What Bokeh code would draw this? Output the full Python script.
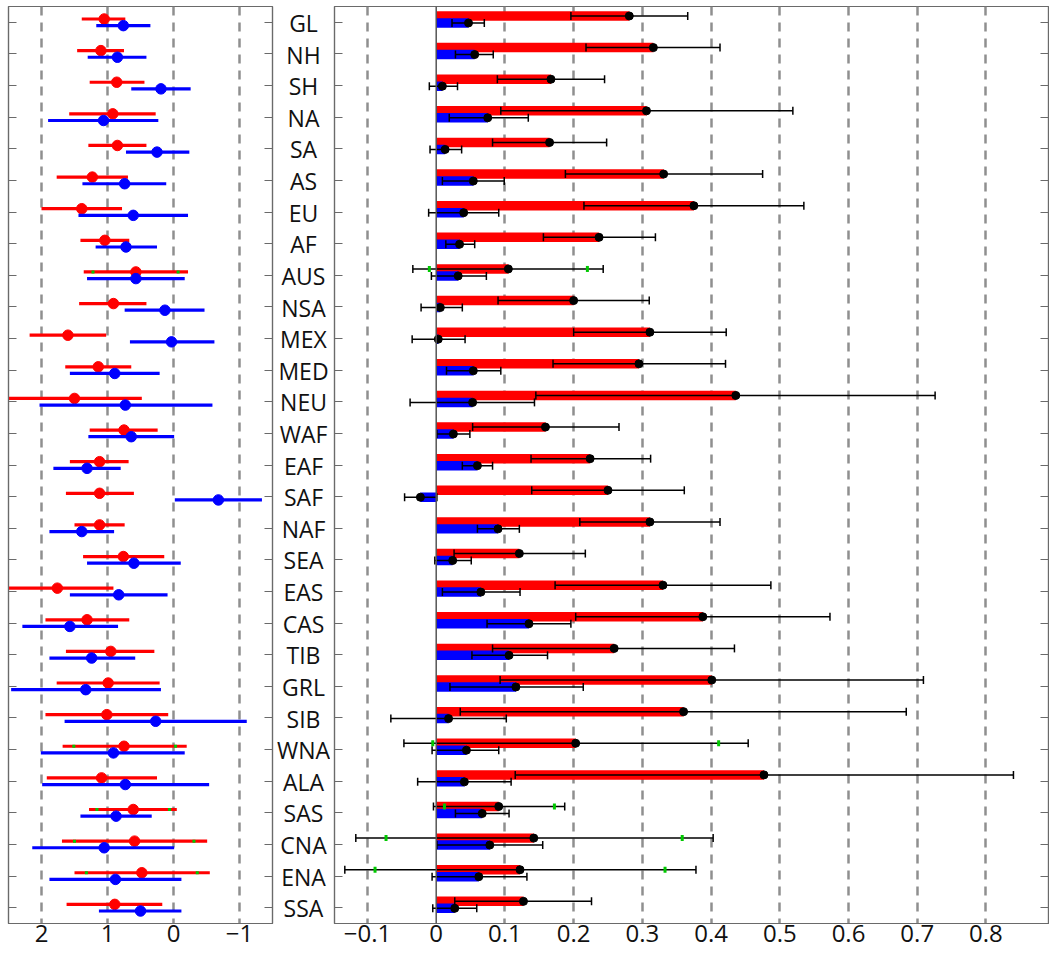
import numpy as np
from bokeh.plotting import figure
from bokeh.models import Range1d, FixedTicker, LinearAxis, Span, ColumnDataSource, CustomLabelingPolicy
from bokeh.layouts import row
from bokeh.embed import file_html
from bokeh.resources import INLINE
from bokeh.core.properties import value

# ---------------- data ----------------
regions = ["GL", "NH", "SH", "NA", "SA", "AS", "EU", "AF", "AUS", "NSA", "MEX", "MED",
           "NEU", "WAF", "EAF", "SAF", "NAF", "SEA", "EAS", "CAS", "TIB", "GRL", "SIB",
           "WNA", "ALA", "SAS", "CNA", "ENA", "SSA"]

# left panel (reversed axis): centre, upper-value end, lower-value end
left_red_mid = [1.05, 1.10, 0.86, 0.92, 0.85, 1.23, 1.39, 1.04, 0.57, 0.91, 1.60, 1.14,
                1.50, 0.75, 1.12, 1.12, 1.12, 0.76, 1.76, 1.31, 0.95, 0.99, 1.01,
                0.75, 1.09, 0.61, 0.59, 0.48, 0.89]
left_red_hi = [1.39, 1.46, 1.27, 1.58, 1.29, 1.77, 2.00, 1.41, 1.36, 1.43, 2.18, 1.64,
               2.55, 1.27, 1.57, 1.63, 1.50, 1.37, 2.55, 1.94, 1.63, 1.77, 1.94,
               1.68, 1.92, 1.28, 1.69, 1.50, 1.62]
left_red_lo = [0.73, 0.75, 0.44, 0.27, 0.41, 0.69, 0.78, 0.67, -0.22, 0.41, 1.02, 0.64,
               0.48, 0.24, 0.68, 0.60, 0.74, 0.14, 0.91, 0.67, 0.29, 0.21, 0.08,
               -0.20, 0.25, -0.05, -0.51, -0.55, 0.17]
left_blue_mid = [0.76, 0.85, 0.19, 1.06, 0.25, 0.74, 0.61, 0.72, 0.57, 0.13, 0.03, 0.89,
                 0.73, 0.64, 1.31, -0.68, 1.39, 0.60, 0.83, 1.57, 1.24, 1.33, 0.27,
                 0.91, 0.73, 0.87, 1.05, 0.88, 0.50]
left_blue_hi = [1.17, 1.30, 0.64, 1.90, 0.72, 1.38, 1.44, 1.18, 1.31, 0.74, 0.66, 1.57,
                2.03, 1.29, 1.82, -0.02, 1.88, 1.31, 1.57, 2.29, 1.88, 2.46, 1.65,
                2.01, 1.99, 1.41, 2.14, 1.88, 1.13]
left_blue_lo = [0.35, 0.41, -0.26, 0.23, -0.24, 0.11, -0.22, 0.25, -0.17, -0.47, -0.62, 0.21,
                -0.59, -0.01, 0.80, -1.34, 0.90, -0.11, 0.09, 0.84, 0.58, 0.19, -1.11,
                -0.17, -0.54, 0.33, -0.01, -0.12, -0.12]
left_green_regions = ["AUS", "AUS", "WNA", "WNA", "SAS", "SAS", "CNA", "CNA", "ENA", "ENA"]
left_green_vals = [1.22, -0.07, 1.51, -0.03, 1.16, 0.06, 1.50, -0.31, 1.32, -0.36]

# right panel: value, lower, upper
right_red_val = [0.281, 0.316, 0.167, 0.306, 0.165, 0.331, 0.375, 0.237, 0.105, 0.200, 0.311, 0.295,
                 0.436, 0.159, 0.224, 0.250, 0.311, 0.121, 0.330, 0.388, 0.259, 0.401, 0.360,
                 0.203, 0.477, 0.091, 0.142, 0.122, 0.127]
right_red_lo = [0.196, 0.218, 0.089, 0.094, 0.082, 0.188, 0.215, 0.156, -0.034, 0.090, 0.200, 0.170,
                0.145, 0.053, 0.138, 0.139, 0.209, 0.026, 0.173, 0.203, 0.082, 0.093, 0.035,
                -0.047, 0.115, -0.004, -0.117, -0.133, 0.027]
right_red_hi = [0.366, 0.413, 0.245, 0.519, 0.248, 0.475, 0.535, 0.319, 0.243, 0.310, 0.422, 0.421,
                0.726, 0.266, 0.312, 0.361, 0.413, 0.217, 0.487, 0.573, 0.434, 0.709, 0.684,
                0.454, 0.840, 0.187, 0.403, 0.378, 0.226]
right_blue_val = [0.047, 0.056, 0.009, 0.075, 0.013, 0.054, 0.040, 0.034, 0.032, 0.006, 0.003, 0.054,
                  0.053, 0.025, 0.060, -0.023, 0.090, 0.024, 0.065, 0.135, 0.106, 0.116, 0.018,
                  0.044, 0.041, 0.067, 0.078, 0.062, 0.027]
right_blue_lo = [0.023, 0.028, -0.010, 0.019, -0.009, 0.009, -0.011, 0.014, -0.007, -0.022, -0.035, 0.015,
                 -0.038, 0.001, 0.038, -0.046, 0.060, -0.002, 0.009, 0.074, 0.052, 0.020, -0.066,
                 -0.006, -0.027, 0.028, 0.001, -0.006, -0.005]
right_blue_hi = [0.070, 0.083, 0.031, 0.134, 0.037, 0.099, 0.091, 0.056, 0.073, 0.038, 0.042, 0.094,
                 0.143, 0.049, 0.082, 0.001, 0.121, 0.051, 0.122, 0.196, 0.162, 0.214, 0.102,
                 0.091, 0.109, 0.106, 0.155, 0.132, 0.059]
right_green_regions = ["AUS", "AUS", "WNA", "WNA", "SAS", "SAS", "CNA", "CNA", "ENA", "ENA"]
right_green_vals = [-0.010, 0.220, -0.005, 0.411, 0.012, 0.172, -0.073, 0.358, -0.089, 0.333]

left_ticks = [2, 1, 0, -1]
left_tick_labels = ["2", "1", "0", "\u22121"]
right_ticks = [-0.1, 0, 0.1, 0.2, 0.3, 0.4, 0.5, 0.6, 0.7, 0.8]
right_tick_labels = ["\u22120.1", "0", "0.1", "0.2", "0.3", "0.4", "0.5", "0.6", "0.7", "0.8"]

# ---------------- styling ----------------
RED = "#ff0000"
BLUE = "#0000ff"
GREEN = "#00c800"
FRAME = "#6a6a6a"
GRID = "#8f8f8f"
FONT = "Open Sans"
H = 957
TOP, BOTTOM = 6, 34

n = len(regions)
ypos = np.arange(1, n + 1, dtype=float)
idx = {r: i for i, r in enumerate(regions)}
y_range = Range1d(n + 0.5, 0.5)

NO_LABELS = CustomLabelingPolicy(code="""
for (let i = 0; i < indices.size; i++) { indices.unset(i) }
return indices
""")


def style_frame(p, grid_ticks, ticks, labels):
    p.outline_line_color = FRAME
    p.outline_line_width = 1.2
    p.ygrid.visible = False
    p.xgrid.ticker = FixedTicker(ticks=grid_ticks)
    p.xgrid.grid_line_color = GRID
    p.xgrid.grid_line_width = 2.5
    p.xgrid.grid_line_dash = "9 7"
    ax = p.xaxis[0]
    ax.ticker = FixedTicker(ticks=ticks)
    ax.major_label_overrides = {t: l for t, l in zip(ticks, labels)}
    ax.major_label_text_font = FONT
    ax.major_label_text_font_size = "24px"
    ax.major_label_text_color = "#111111"
    ax.major_label_standoff = 1
    ax.major_tick_out = 0
    ax.major_tick_in = 0
    ax.minor_tick_out = 0
    ax.minor_tick_in = 0
    ax.axis_line_color = FRAME
    ax.axis_line_width = 1.2
    for side in ("left", "right"):
        ya = LinearAxis(ticker=FixedTicker(ticks=list(ypos)))
        ya.major_label_policy = NO_LABELS
        ya.major_label_text_font_size = "0px"
        ya.major_label_standoff = 0
        ya.major_tick_out = 0
        ya.major_tick_in = 8
        ya.major_tick_line_color = FRAME
        ya.major_tick_line_width = 1.2
        ya.minor_tick_out = 0
        ya.minor_tick_in = 0
        ya.axis_line_color = FRAME
        ya.axis_line_width = 1.2
        p.add_layout(ya, side)


# ---------------- left panel ----------------
pl = figure(width=276, height=H, x_range=Range1d(2.5, -1.5), y_range=y_range,
            output_backend="svg", toolbar_location=None, y_axis_type=None,
            min_border_left=8, min_border_right=4, min_border_top=TOP, min_border_bottom=BOTTOM)
style_frame(pl, left_ticks, left_ticks, left_tick_labels)

src_l = ColumnDataSource(dict(
    yr=ypos - 0.105, yb=ypos + 0.105,
    rm=left_red_mid, rh=left_red_hi, rl=left_red_lo,
    bm=left_blue_mid, bh=left_blue_hi, bl=left_blue_lo))
pl.segment(x0="rh", x1="rl", y0="yr", y1="yr", source=src_l, line_color=RED, line_width=3.2)
pl.scatter(x="rm", y="yr", source=src_l, size=10.5, fill_color=RED, line_color=RED)
pl.rect(x=left_green_vals, y=[idx[r] + 1 - 0.105 for r in left_green_regions],
        width=3, height=3, width_units="screen", height_units="screen",
        fill_color=GREEN, line_color=None)
pl.segment(x0="bh", x1="bl", y0="yb", y1="yb", source=src_l, line_color=BLUE, line_width=3.2)
pl.scatter(x="bm", y="yb", source=src_l, size=10.5, fill_color=BLUE, line_color=BLUE)

# ---------------- middle labels ----------------
pm = figure(width=54, height=H, x_range=Range1d(0, 1), y_range=y_range,
            output_backend="svg", toolbar_location=None, x_axis_type=None, y_axis_type=None,
            min_border_left=0, min_border_right=0, min_border_top=TOP, min_border_bottom=BOTTOM)
pm.outline_line_color = None
pm.grid.visible = False
pm.text(x=[0.5] * n, y=ypos + 0.02, text=regions, text_align="center", text_baseline="middle",
        text_font=value(FONT), text_font_size="23px", text_color="#111111")

# ---------------- right panel ----------------
pr = figure(width=719, height=H, x_range=Range1d(-0.148, 0.891), y_range=y_range,
            output_backend="svg", toolbar_location=None, y_axis_type=None,
            min_border_left=4, min_border_right=1, min_border_top=TOP, min_border_bottom=BOTTOM)
style_frame(pr, [t for t in right_ticks if t != 0], right_ticks, right_tick_labels)
pr.add_layout(Span(location=0, dimension="height", line_color="#555555", line_width=1.5))

src_r = ColumnDataSource(dict(
    yr=ypos - 0.2, yb=ypos + 0.02,
    rv=right_red_val, rl=right_red_lo, rh=right_red_hi,
    bv=right_blue_val, bl=right_blue_lo, bh=right_blue_hi))
pr.hbar(y="yr", left=0, right="rv", height=0.3, source=src_r, fill_color=RED, line_color=None)
pr.hbar(y="yb", left=0, right="bv", height=0.3, source=src_r, fill_color=BLUE, line_color=None)

for lo, hi, yy in (("rl", "rh", "yr"), ("bl", "bh", "yb")):
    pr.segment(x0=lo, x1=hi, y0=yy, y1=yy, source=src_r, line_color="black", line_width=1.5)
    pr.scatter(x=lo, y=yy, source=src_r, marker="dash", angle=np.pi / 2, size=8,
               line_color="black", line_width=1.5)
    pr.scatter(x=hi, y=yy, source=src_r, marker="dash", angle=np.pi / 2, size=8,
               line_color="black", line_width=1.5)

pr.rect(x=right_green_vals, y=[idx[r] + 1 - 0.2 for r in right_green_regions],
        width=3, height=6, width_units="screen", height_units="screen",
        fill_color=GREEN, line_color=None)
pr.scatter(x="rv", y="yr", source=src_r, size=8, fill_color="black", line_color="black")
pr.scatter(x="bv", y="yb", source=src_r, size=8, fill_color="black", line_color="black")

layout = row(pl, pm, pr, spacing=0)
open("out.html", "w").write(file_html(layout, INLINE))
